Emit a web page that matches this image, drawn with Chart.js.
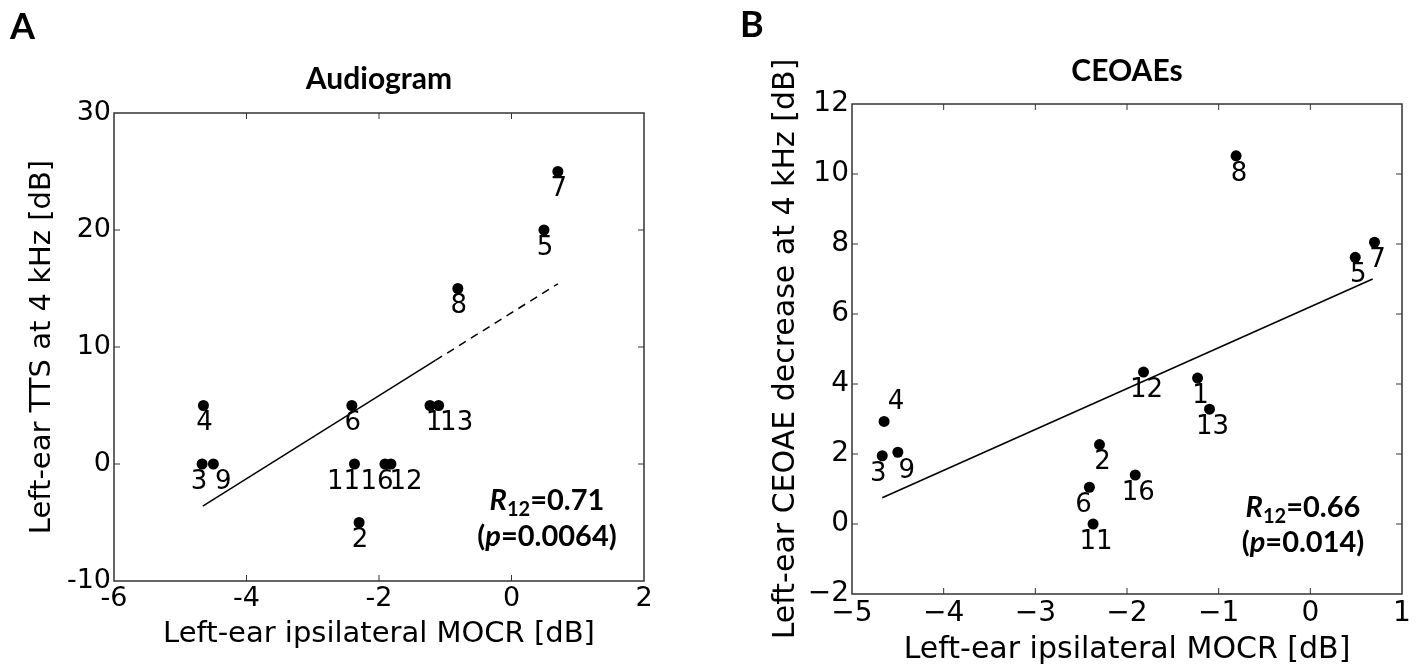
<!DOCTYPE html>
<html>
<head>
<meta charset="utf-8">
<script src="https://cdn.jsdelivr.net/npm/chart.js@4.4.1/dist/chart.umd.min.js"></script>
<style>
  body { margin: 0; background: #fff; width: 1427px; height: 666px; position: relative; overflow: hidden; }
  .panel { position: absolute; top: 0; }
  canvas { display: block; }
</style>
</head>
<body>
<div class="panel" style="left:0"><canvas id="chartA" width="700" height="666"></canvas></div>
<div class="panel" style="left:700px"><canvas id="chartB" width="727" height="666"></canvas></div>
<script>
const subjects = ['1', '2', '3', '4', '5', '6', '7', '8', '9', '11', '12', '13', '16'];
const mocrLeft = [-1.23, -2.30, -4.67, -4.65, 0.49, -2.41, 0.70, -0.81, -4.50, -2.37, -1.82, -1.10, -1.91];
const ttsLeft = [5, -5, 0, 5, 20, 5, 25, 15, 0, 0, 0, 5, 0];
const ceoaeDecrease = [4.17, 2.27, 1.95, 2.93, 7.62, 1.05, 8.05, 10.52, 2.05, 0.0, 4.34, 3.28, 1.40];

// regression lines (A: solid then dashed part)
const fitAx = [-4.66, -1.15, 0.70];
const fitAy = [-3.6, 8.85, 15.4];
const fitBx = [-4.67, 0.68];
const fitBy = [0.75, 7.0];

// tick labels
const xTicksA = [-6, -4, -2, 0, 2];
const yTicksA = [-10, 0, 10, 20, 30];
const xTicksB = [-5, -4, -3, -2, -1, 0, 1];
const yTicksB = [-2, 0, 2, 4, 6, 8, 10, 12];

const statsA = { r: '0.71', p: '0.0064' };
const statsB = { r: '0.66', p: '0.014' };

Chart.defaults.color = '#000';
Chart.defaults.font.family = '"DejaVu Sans", sans-serif';

function drawRich(ctx, parts, cx, baseline) {
  let w = 0;
  parts.forEach(p => { ctx.font = p.font; p.w = ctx.measureText(p.t).width; w += p.w; });
  let x = cx - w / 2;
  ctx.textAlign = 'left';
  ctx.textBaseline = 'alphabetic';
  parts.forEach(p => { ctx.font = p.font; ctx.fillText(p.t, x, baseline + (p.dy || 0)); x += p.w; });
}

const figurePlugin = {
  id: 'figure',
  afterDraw(chart, args, opts) {
    const ctx = chart.ctx;
    const a = chart.chartArea;
    const xs = chart.scales.x, ys = chart.scales.y;
    ctx.save();
    // frame
    ctx.strokeStyle = '#333';
    ctx.lineWidth = 1.5;
    ctx.strokeRect(a.left, a.top, a.right - a.left, a.bottom - a.top);
    // inward ticks on all sides
    ctx.lineWidth = 1;
    ctx.beginPath();
    xs.ticks.forEach(t => {
      const px = xs.getPixelForValue(t.value);
      if (px <= a.left + 1 || px >= a.right - 1) return;
      ctx.moveTo(px, a.bottom); ctx.lineTo(px, a.bottom - 6);
      ctx.moveTo(px, a.top); ctx.lineTo(px, a.top + 6);
    });
    ys.ticks.forEach(t => {
      const py = ys.getPixelForValue(t.value);
      if (py <= a.top + 1 || py >= a.bottom - 1) return;
      ctx.moveTo(a.left, py); ctx.lineTo(a.left + 6, py);
      ctx.moveTo(a.right, py); ctx.lineTo(a.right - 6, py);
    });
    ctx.stroke();

    // subject number labels
    ctx.fillStyle = '#000';
    ctx.font = '26px "DejaVu Sans"';
    ctx.textAlign = 'center';
    ctx.textBaseline = 'middle';
    chart.getDatasetMeta(0).data.forEach((pt, i) => {
      const id = subjects[i];
      const s = opts.shift[id] || opts.defaultShift;
      ctx.fillText(id, pt.x + s[0], pt.y + s[1]);
    });

    // correlation text
    const cx = a.right - opts.statDx;
    drawRich(ctx, [
      { t: 'R', font: 'italic bold 29px Lato' },
      { t: '12', font: 'bold 20px Lato', dy: 6 },
      { t: '=' + opts.stats.r, font: 'bold 29px Lato' }
    ], cx, a.bottom - opts.statDy[0]);
    drawRich(ctx, [
      { t: '(', font: 'bold 29px Lato' },
      { t: 'p', font: 'italic bold 29px Lato' },
      { t: '=' + opts.stats.p + ')', font: 'bold 29px Lato' }
    ], cx, a.bottom - opts.statDy[1]);

    // panel letter
    ctx.font = 'bold 36px Lato';
    ctx.textAlign = 'left';
    ctx.textBaseline = 'alphabetic';
    ctx.fillText(opts.letter, opts.letterPos[0], opts.letterPos[1]);
    ctx.restore();
  }
};

function minusFmt(v) { return v < 0 ? '\u2212' + Math.abs(v) : String(v); }

function makeChart(id, cfg) {
  const pts = subjects.map((s, i) => ({ x: mocrLeft[i], y: cfg.yVals[i] }));
  const lineSets = cfg.fits.map(f => ({
    type: 'line',
    data: f.x.map((v, i) => ({ x: v, y: f.y[i] })),
    borderColor: '#000',
    borderWidth: 1.5,
    borderDash: f.dash || [],
    pointRadius: 0,
    fill: false
  }));
  return new Chart(document.getElementById(id), {
    type: 'scatter',
    data: {
      datasets: [{
        data: pts,
        pointRadius: 5.5,
        pointHoverRadius: 5.5,
        backgroundColor: '#000',
        borderWidth: 0
      }].concat(lineSets)
    },
    options: {
      responsive: false,
      animation: false,
      layout: { padding: { left: 0, right: cfg.padRight, top: 0, bottom: 0 } },
      plugins: {
        legend: { display: false },
        tooltip: { enabled: false },
        title: {
          display: true,
          text: cfg.title,
          fullSize: false,
          color: '#000',
          font: { family: 'Lato', weight: 'bold', size: 30, lineHeight: 1 },
          padding: cfg.titlePad
        },
        figure: cfg.figure
      },
      scales: {
        x: {
          type: 'linear',
          min: cfg.xTicks[0],
          max: cfg.xTicks[cfg.xTicks.length - 1],
          afterBuildTicks: s => { s.ticks = cfg.xTicks.map(v => ({ value: v })); },
          afterFit: s => { s.height = cfg.xAxisH; },
          ticks: { font: { size: cfg.tickSize }, padding: cfg.xTickPad, maxRotation: 0, callback: cfg.fmt },
          grid: { display: false, drawTicks: false },
          border: { display: false },
          title: {
            display: true,
            text: 'Left-ear ipsilateral MOCR [dB]',
            font: { size: cfg.titleSize, lineHeight: 1 },
            padding: { top: 0, bottom: cfg.xTitlePad }
          }
        },
        y: {
          type: 'linear',
          min: cfg.yTicks[0],
          max: cfg.yTicks[cfg.yTicks.length - 1],
          afterBuildTicks: s => { s.ticks = cfg.yTicks.map(v => ({ value: v })); },
          afterFit: s => { s.width = cfg.yAxisW; },
          ticks: { font: { size: cfg.tickSize }, padding: 3, callback: cfg.fmt },
          grid: { display: false, drawTicks: false },
          border: { display: false },
          title: {
            display: true,
            text: cfg.yTitle,
            font: { size: cfg.titleSize, lineHeight: 1 },
            padding: { top: cfg.yTitlePad, bottom: 0 }
          }
        }
      }
    },
    plugins: [figurePlugin]
  });
}

makeChart('chartA', {
  yVals: ttsLeft,
  fits: [
    { x: fitAx.slice(0, 2), y: fitAy.slice(0, 2) },
    { x: fitAx.slice(1), y: fitAy.slice(1), dash: [8, 6] }
  ],
  xTicks: xTicksA, yTicks: yTicksA,
  fmt: v => String(v),
  title: 'Audiogram',
  titlePad: { top: 64, bottom: 19 },
  padRight: 56,
  xAxisH: 85, yAxisW: 114,
  tickSize: 27, titleSize: 29,
  xTickPad: 2, xTitlePad: 17, yTitlePad: 28,
  yTitle: 'Left-ear TTS at 4 kHz [dB]',
  figure: {
    letter: 'A', letterPos: [10, 39],
    stats: statsA, statDx: 97, statDy: [71, 35],
    defaultShift: [1, 18],
    shift: { '3': [-3, 18], '9': [10, 18], '11': [-11, 18], '16': [-8, 18], '12': [15, 18], '1': [4, 18], '13': [18, 18] }
  }
});

makeChart('chartB', {
  yVals: ceoaeDecrease,
  fits: [{ x: fitBx, y: fitBy }],
  xTicks: xTicksB, yTicks: yTicksB,
  fmt: minusFmt,
  title: 'CEOAEs',
  titlePad: { top: 56, bottom: 18 },
  padRight: 25,
  xAxisH: 72, yAxisW: 152,
  tickSize: 28, titleSize: 30,
  xTickPad: 3, xTitlePad: 1, yTitlePad: 71,
  yTitle: 'Left-ear CEOAE decrease at 4 kHz [dB]',
  figure: {
    letter: 'B', letterPos: [40, 37],
    stats: statsB, statDx: 99, statDy: [77, 42],
    defaultShift: [3, 18],
    shift: { '4': [12, -19], '3': [-4, 18], '9': [9, 19], '6': [-6, 18] }
  }
});
</script>
</body>
</html>
